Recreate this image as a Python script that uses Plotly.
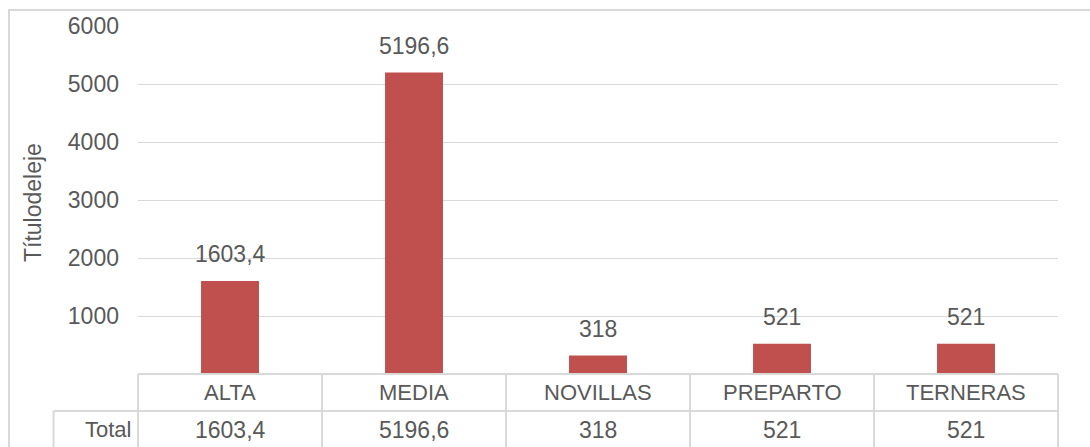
import plotly.graph_objects as go

categories = ["ALTA", "MEDIA", "NOVILLAS", "PREPARTO", "TERNERAS"]
values = [1603.4, 5196.6, 318, 521, 521]
tick_vals = [1000, 2000, 3000, 4000, 5000, 6000]
row_label = "Total"
axis_title = "Títulodeleje"


def fmt(v):
    s = f"{v:g}"
    return s.replace(".", ",")


W, H = 1090, 447
L, R, T, B = 138, 32, 26, 73
PW = W - L - R
PH = H - T - B


def px(xpix):
    return (xpix - L) / PW


def py(ypix):
    return (H - B - ypix) / PH


FONT = "Liberation Sans, Arial, sans-serif"
TXT = "#595959"
GRID = "#D9D9D9"
FS = 23

fig = go.Figure()
fig.add_trace(go.Bar(
    x=categories, y=values, marker_color="#C0504D", marker_line_width=0,
    showlegend=False, hoverinfo="skip"))

annotations = []
# data labels
for c, v in zip(categories, values):
    annotations.append(dict(
        x=c, y=v, xref="x", yref="y", text=fmt(v), showarrow=False,
        yanchor="middle", yshift=27, font=dict(family=FONT, size=FS, color=TXT)))

row1 = py(411)
row2 = py(448)
# table header texts and values
for c, v in zip(categories, values):
    annotations.append(dict(
        x=c, y=(0 + row1) / 2, xref="x", yref="paper", text=c, showarrow=False,
        yanchor="middle", font=dict(family=FONT, size=FS - 1, color=TXT)))
    annotations.append(dict(
        x=c, y=(row1 + row2) / 2, xref="x", yref="paper", text=fmt(v), showarrow=False,
        yanchor="middle", font=dict(family=FONT, size=FS, color=TXT)))
annotations.append(dict(
    x=px(133), y=(row1 + row2) / 2, xref="paper", yref="paper", text=row_label,
    showarrow=False, xanchor="right", yanchor="middle",
    font=dict(family=FONT, size=FS - 1, color=TXT)))
annotations.append(dict(
    x=px(33), y=py(203), xref="paper", yref="paper", text=axis_title,
    showarrow=False, textangle=-90, xanchor="center", yanchor="middle",
    font=dict(family=FONT, size=FS, color=TXT)))

shapes = []
line = dict(color=GRID, width=2)
# table horizontal lines
shapes.append(dict(type="line", xref="paper", yref="paper", x0=0, x1=1, y0=0, y1=0, line=line))
shapes.append(dict(type="line", xref="paper", yref="paper", x0=px(53.5), x1=1, y0=row1, y1=row1, line=line))
# vertical lines
n = len(categories)
for i in range(n + 1):
    shapes.append(dict(type="line", xref="paper", yref="paper", x0=i / n, x1=i / n,
                       y0=0, y1=py(460), line=line))
shapes.append(dict(type="line", xref="paper", yref="paper", x0=px(53.5), x1=px(53.5),
                   y0=row1, y1=py(460), line=line))
# outer chart frame
shapes.append(dict(type="rect", xref="paper", yref="paper", x0=px(9), x1=px(1110),
                   y0=py(10), y1=py(470), line=dict(color=GRID, width=2), layer="below"))

fig.update_layout(
    width=W, height=H,
    margin=dict(l=L, r=R, t=T, b=B, pad=0),
    paper_bgcolor="white", plot_bgcolor="white",
    bargap=0.685,
    xaxis=dict(showticklabels=False, showgrid=False, zeroline=False, showline=False,
               range=[-0.5, n - 0.5], fixedrange=True),
    yaxis=dict(range=[0, 6000], tickvals=tick_vals, ticktext=[str(t) for t in tick_vals],
               showgrid=True, gridcolor=GRID, gridwidth=1.3, zeroline=False, showline=False,
               ticks="", ticklabelstandoff=18,
               tickfont=dict(family=FONT, size=FS, color=TXT), fixedrange=True),
    annotations=annotations,
    shapes=shapes,
)

fig.write_html("out.html")
